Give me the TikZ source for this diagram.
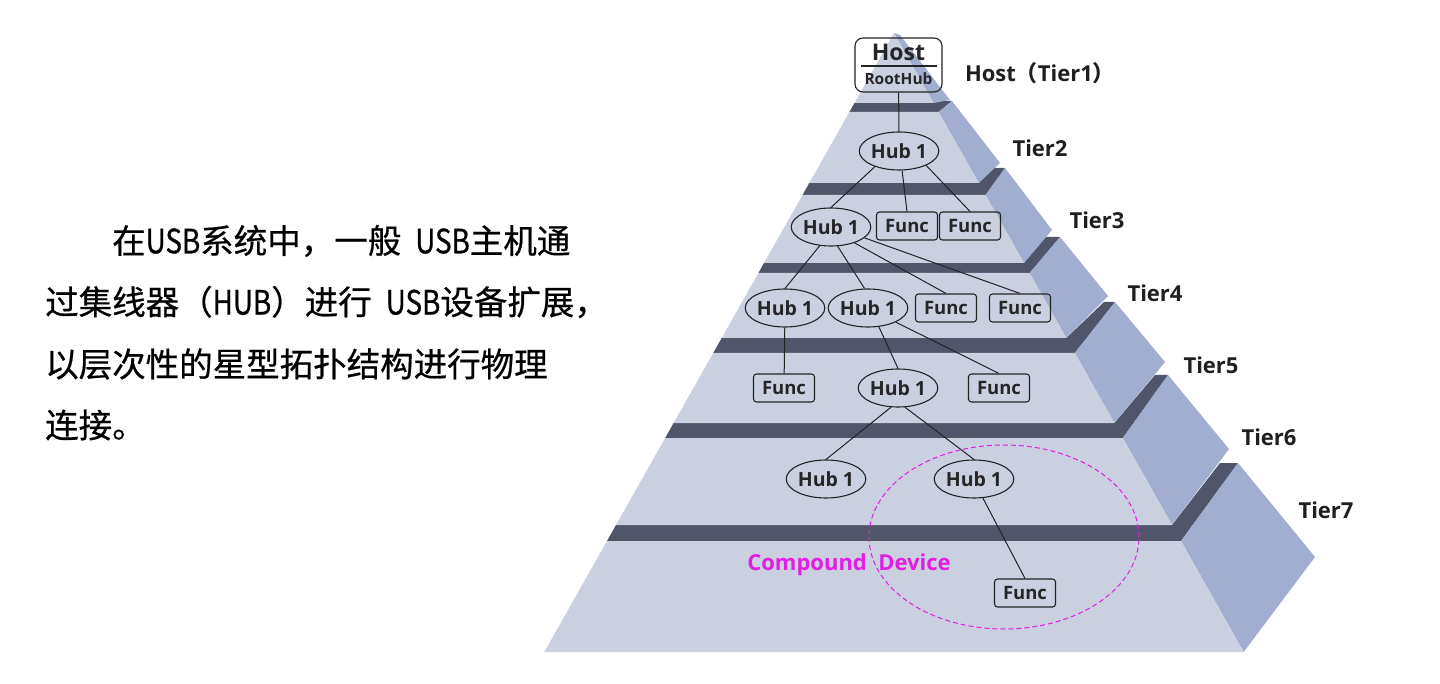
\documentclass[tikz,border=0pt]{standalone}
\usepackage{fontspec}
\usepackage{graphicx}
\setmainfont{Open Sans}[BoldFont={* Bold}]
\newfontfamily\cjk{Noto Sans CJK SC}
\newfontfamily\cjkb{Noto Sans CJK SC}[FakeBold=0.6]
\newcommand{\lat}[1]{\scalebox{0.83}[1]{#1}}
\usetikzlibrary{shapes.geometric}
\definecolor{frontc}{RGB}{203,208,225}
\definecolor{topc}{RGB}{80,85,105}
\definecolor{sidec}{RGB}{161,174,207}
\definecolor{magc}{RGB}{225,30,225}
\definecolor{lnc}{RGB}{35,35,35}
\begin{document}
\begin{tikzpicture}[x=1pt,y=-1pt,
  hub/.style={draw=lnc, line width=1.1pt, ellipse, minimum width=74pt, minimum height=38pt, inner sep=0pt, font=\bfseries\fontsize{19.5}{19.5}\selectfont, text=black!85},
  func/.style={draw=lnc, line width=1.1pt, rounded corners=3pt, minimum width=61pt, minimum height=28pt, inner sep=0pt, font=\bfseries\fontsize{18.5}{18.5}\selectfont, text=black!85},
  conn/.style={draw=lnc, line width=1pt},
  tierlab/.style={font=\bfseries\fontsize{22}{22}\selectfont, text=black!88, inner sep=0pt},
  cjktext/.style={font=\cjkb\fontsize{33.5}{33.5}\selectfont, anchor=west, inner sep=0pt},
  topface/.style={fill=topc},
  sideface/.style={fill=sidec},
  frontface/.style={fill=frontc}]
\fill[white] (0,0) rectangle (1440,684);
\useasboundingbox (0,0) rectangle (1440,684);
% ---- Tier 7
\fill[topface] (607,541) -- (1181,541) -- (1238,463) -- (1220,463) -- (1172,525) -- (616,525) -- cycle;
\fill[sideface] (1181,541) -- (1243.7,652) -- (1315,557) -- (1238,463) -- cycle;
\fill[frontface] (607,541) -- (1181,541) -- (1243.7,652) -- (544.3,652) -- cycle;
% ---- Tier 6
\fill[topface] (665.2,438) -- (1122.8,438) -- (1168,375) -- (1155,375) -- (1114.4,423) -- (673.6,423) -- cycle;
\fill[sideface] (1122.8,438) -- (1172,525) -- (1229,449) -- (1168,375) -- cycle;
\fill[frontface] (665.2,438) -- (1122.8,438) -- (1172,525) -- (616,525) -- cycle;
% ---- Tier 5
\fill[topface] (713.2,353) -- (1074.8,353) -- (1115,302) -- (1104,302) -- (1066.3,338) -- (721.7,338) -- cycle;
\fill[sideface] (1074.8,353) -- (1114.4,423) -- (1165,362) -- (1115,302) -- cycle;
\fill[frontface] (713.2,353) -- (1074.8,353) -- (1114.4,423) -- (673.6,423) -- cycle;
% ---- Tier 4
\fill[topface] (758.4,273) -- (1029.6,273) -- (1060,237) -- (1045,237) -- (1024,263) -- (764,263) -- cycle;
\fill[sideface] (1029.6,273) -- (1066.3,338) -- (1108,296) -- (1060,237) -- cycle;
\fill[frontface] (758.4,273) -- (1029.6,273) -- (1066.3,338) -- (721.7,338) -- cycle;
% ---- Tier 3
\fill[topface] (802.5,195) -- (985.5,195) -- (1005,168) -- (992,168) -- (978.8,183) -- (809.3,183) -- cycle;
\fill[sideface] (985.5,195) -- (1024,263) -- (1052,230) -- (1005,168) -- cycle;
\fill[frontface] (802.5,195) -- (985.5,195) -- (1024,263) -- (764,263) -- cycle;
% ---- Tier 2
\fill[topface] (849.4,112) -- (938.6,112) -- (952,101) -- (940,101) -- (933.5,103) -- (854.5,103) -- cycle;
\fill[sideface] (938.6,112) -- (978.8,183) -- (1000,163) -- (952,101) -- cycle;
\fill[frontface] (849.4,112) -- (938.6,112) -- (978.8,183) -- (809.3,183) -- cycle;
% ---- Tier 1
\fill[sideface] (894,33) -- (933.5,103) -- (950,100) -- (900,35) -- cycle;
\fill[frontface] (894,33) -- (933.5,103) -- (854.5,103) -- cycle;

% ---- Host box
\node[draw=lnc, line width=1.1pt, rounded corners=8pt, minimum width=87pt, minimum height=54pt, inner sep=0pt] (host) at (898.5,65) {};
\node[font=\bfseries\fontsize{23}{23}\selectfont, text=black!85, inner sep=0pt] (hostlbl) at (898.5,52) {Host};
\node[font=\bfseries\fontsize{15.5}{15.5}\selectfont, text=black!85, inner sep=0pt] (rootlbl) at (898.5,79) {RootHub};
\draw[lnc, line width=1.1pt] (861,66) -- (937,66);

% ---- Hubs and functions
\node[hub] (h2) at (899,151) {Hub 1};
\node[hub] (h3) at (831,227) {Hub 1};
\node[func] (f3a) at (907,226) {Func};
\node[func] (f3b) at (970,226) {Func};
\node[hub] (h4a) at (785,308) {Hub 1};
\node[hub] (h4b) at (868,308) {Hub 1};
\node[func] (f4a) at (946,308) {Func};
\node[func] (f4b) at (1020,308) {Func};
\node[func] (f5a) at (784,388) {Func};
\node[hub] (h5) at (898,388) {Hub 1};
\node[func] (f5b) at (999,388) {Func};
\node[hub] (h6a) at (826,479) {Hub 1};
\node[hub] (h6b) at (974,479) {Hub 1};
\node[func] (f7) at (1025,593) {Func};

% ---- Connectors
\draw[conn] (host) -- (h2);
\draw[conn] (h2.-147) -- (h3.north);
\draw[conn] (h2.-81) -- (f3a.north);
\draw[conn] (h2.-28) -- (f3b.north);
\draw[conn] (h3.-121) -- (h4a.north);
\draw[conn] (h3.-71) -- (h4b.100);
\draw[conn] (h3.-34) -- (f4a.north);
\draw[conn] (h3.-18) -- (f4b.north);
\draw[conn] (h4a) -- (f5a);
\draw[conn] (h4b.-60) -- (h5.north);
\draw[conn] (h4b.-27) -- (f5b.north);
\draw[conn] (h5.-110) -- (h6a.north);
\draw[conn] (h5.-70) -- (h6b.north);
\draw[conn] (h6b.-65) -- (f7.north);

% ---- Compound device
\node[ellipse, draw=magc, dash pattern=on 5pt off 3pt, line width=1pt, minimum width=270pt, minimum height=184pt, inner sep=0pt] (cd) at (1004,537) {};
\node[font=\bfseries\fontsize{22}{22}\selectfont, text=magc, inner sep=0pt] (cdlbl) at (849,565) {Compound\ \ Device};

% ---- Tier labels
\node[tierlab] (t1) at (1040,73) {Host{\cjk （}Tier1{\cjk ）}};
\node[tierlab] (t2) at (1040,148) {Tier2};
\node[tierlab] (t3) at (1097,220) {Tier3};
\node[tierlab] (t4) at (1155,293) {Tier4};
\node[tierlab] (t5) at (1211,365) {Tier5};
\node[tierlab] (t6) at (1269,437) {Tier6};
\node[tierlab] (t7) at (1326,510) {Tier7};

% ---- Chinese text
\node[cjktext] (l1) at (112,241) {在\lat{USB}系统中，一般\hspace{14pt}\lat{USB}主机通};
\node[cjktext] (l2) at (45,302) {过集线器（\lat{HUB}）进行\hspace{14pt}\lat{USB}设备扩展，};
\node[cjktext] (l3) at (45,364) {以层次性的星型拓扑结构进行物理};
\node[cjktext] (l4) at (45,425) {连接。};
\end{tikzpicture}
\end{document}
